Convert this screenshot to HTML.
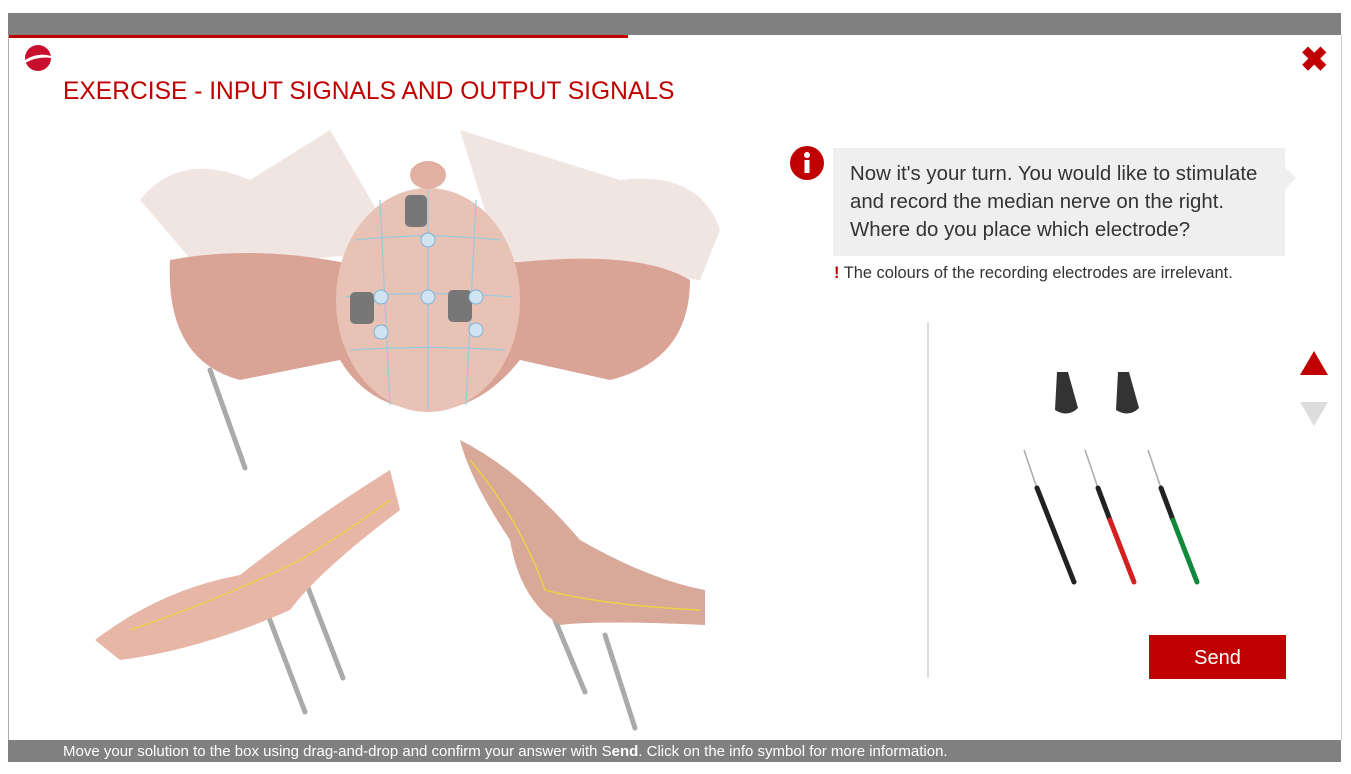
<!DOCTYPE html>
<html><head><meta charset="utf-8"><style>
body{margin:0;width:1351px;height:774px;background:#fff;position:relative;overflow:hidden;font-family:"Liberation Sans",sans-serif}
.abs{position:absolute}
</style></head><body>
<div class="abs" style="left:8px;top:13px;width:1333px;height:22px;background:#808080"></div>
<div class="abs" style="left:8px;top:35px;width:620px;height:3px;background:#c00000"></div>
<div class="abs" style="left:8px;top:35px;width:1px;height:705px;background:#aaa"></div>
<div class="abs" style="left:1341px;top:35px;width:1px;height:705px;background:#ccc"></div>
<div class="abs" style="left:8px;top:740px;width:1333px;height:22px;background:#808080;color:#fff;font-size:15px;line-height:24px;white-space:nowrap"><span style="margin-left:55px">Move your solution to the box using drag-and-drop and confirm your answer with S<b>end</b>. Click on the info symbol for more information.</span></div>
<svg class="abs" style="left:24px;top:44px" width="28" height="28"><circle cx="14" cy="14" r="13" fill="#c8102e"/><path d="M1 16 Q14 8 27 12 L27 14 Q14 12 1 19Z" fill="#fff"/></svg>
<div class="abs" style="left:63px;top:78px;font-size:24.6px;color:#c00000;white-space:nowrap">EXERCISE - INPUT SIGNALS AND OUTPUT SIGNALS</div>
<div class="abs" style="left:1300px;top:40px;font-size:34px;color:#c00000;font-weight:bold">✖</div>
<svg class="abs" style="left:0;top:0" width="760" height="740">
<g fill="#f1e5e2">
<path d="M140 200 Q180 150 250 180 L330 130 L400 250 L200 270Z"/>
<path d="M620 180 Q700 170 720 230 L700 280 L500 260 L460 130Z"/>
</g>
<path d="M170 260 Q250 245 340 262 L520 262 Q640 250 690 280 Q690 360 610 380 L520 360 Q480 410 430 410 Q370 410 340 360 L240 380 Q165 360 170 260Z" fill="#d9a496"/>
<ellipse cx="428" cy="300" rx="92" ry="112" fill="#e8c2b5"/>
<ellipse cx="428" cy="175" rx="18" ry="14" fill="#e1b0a2"/>
<g stroke="#9cc9e0" stroke-width="1.2" fill="none"><line x1="428" y1="190" x2="428" y2="410"/><path d="M345 297 Q428 290 512 297"/><path d="M355 240 Q428 232 500 240"/><path d="M350 350 Q428 345 505 350"/><line x1="380" y1="200" x2="390" y2="405"/><line x1="476" y1="200" x2="466" y2="405"/></g>
<g fill="#777"><rect x="405" y="195" width="22" height="32" rx="5"/><rect x="350" y="292" width="24" height="32" rx="5"/><rect x="448" y="290" width="24" height="32" rx="5"/></g>
<g fill="#cfe3f1" stroke="#7fb2d6"><circle cx="428" cy="240" r="7"/><circle cx="381" cy="297" r="7"/><circle cx="428" cy="297" r="7"/><circle cx="476" cy="297" r="7"/><circle cx="381" cy="332" r="7"/><circle cx="476" cy="330" r="7"/></g>
<g stroke="#aaa" stroke-width="5" stroke-linecap="round"><line x1="210" y1="370" x2="245" y2="468"/><line x1="268" y1="615" x2="305" y2="712"/><line x1="305" y1="580" x2="343" y2="678"/><line x1="555" y1="620" x2="585" y2="692"/><line x1="605" y1="635" x2="635" y2="728"/></g>
<path d="M95 640 Q160 590 240 575 Q310 520 390 470 L400 510 Q320 570 290 610 Q200 650 120 660Z" fill="#e7b6a6"/>
<path d="M460 440 Q520 470 580 540 Q650 580 705 590 L705 625 Q600 620 560 625 Q520 600 510 540 Q470 480 460 440Z" fill="#d8a898"/>
<g stroke="#e8d24a" stroke-width="1.5" fill="none"><path d="M130 630 Q220 600 300 560 Q350 530 390 500"/><path d="M470 460 Q520 520 545 590 Q600 605 700 610"/></g>
</svg>
<svg class="abs" style="left:790px;top:146px" width="36" height="36"><circle cx="17" cy="17" r="17" fill="#c00000"/><circle cx="17" cy="9" r="3" fill="#fff"/><rect x="14.5" y="14" width="5" height="13" fill="#fff"/></svg>
<div class="abs" style="left:833px;top:148px;width:452px;height:108px;background:#efefef"></div>
<div class="abs" style="left:1284px;top:166px;width:0;height:0;border-top:12px solid transparent;border-bottom:12px solid transparent;border-left:12px solid #efefef"></div>
<div class="abs" style="left:850px;top:160px;font-size:20.4px;line-height:28px;color:#333;white-space:nowrap">Now it's your turn. You would like to stimulate<br>and record the median nerve on the right.<br>Where do you place which electrode?</div>
<div class="abs" style="left:834px;top:264px;font-size:16.4px;color:#333;white-space:nowrap"><b style="color:#c00000">!</b> The colours of the recording electrodes are irrelevant.</div>
<div class="abs" style="left:927px;top:322px;width:2px;height:356px;background:#ddd"></div>
<div class="abs" style="left:1300px;top:351px;border-left:14px solid transparent;border-right:14px solid transparent;border-bottom:24px solid #c00000"></div>
<div class="abs" style="left:1300px;top:402px;border-left:14px solid transparent;border-right:14px solid transparent;border-top:24px solid #ddd"></div>
<svg class="abs" style="left:1000px;top:360px" width="220" height="240">
<g fill="#333"><path d="M57 12 L68 12 L78 48 Q68 58 55 50Z"/><path d="M118 12 L129 12 L139 48 Q129 58 116 50Z"/></g>
<g stroke="#aaa" stroke-width="1.5"><line x1="24" y1="90" x2="37" y2="128"/><line x1="85" y1="90" x2="98" y2="128"/><line x1="148" y1="90" x2="161" y2="128"/></g>
<g stroke-width="5" stroke-linecap="round"><line x1="37" y1="128" x2="74" y2="222" stroke="#222"/><line x1="98" y1="128" x2="110" y2="160" stroke="#222"/><line x1="110" y1="160" x2="134" y2="222" stroke="#d42020"/><line x1="161" y1="128" x2="173" y2="160" stroke="#222"/><line x1="173" y1="160" x2="197" y2="222" stroke="#108a3a"/></g>
</svg>
<div class="abs" style="left:1149px;top:635px;width:137px;height:44px;background:#c00000;color:#fff;font-size:20px;text-align:center;line-height:46px">Send</div>
</body></html>
